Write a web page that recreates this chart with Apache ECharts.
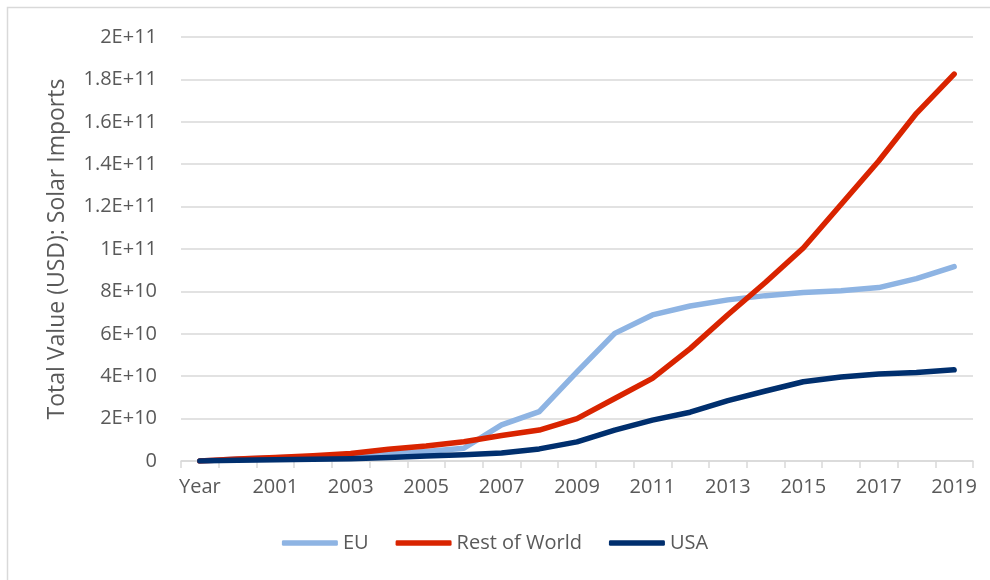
<!DOCTYPE html>
<html>
<head>
<meta charset="utf-8">
<script src="https://cdn.jsdelivr.net/npm/echarts@6/dist/echarts.min.js"></script>
<style>
  html, body { margin: 0; padding: 0; background: #fff; }
  #main { width: 990px; height: 580px; }
</style>
</head>
<body>
<div id="main"></div>
<script>
var chart = echarts.init(document.getElementById('main'));

// categories (first one is the header row "Year")
var years = ['Year', '2000', '2001', '2002', '2003', '2004', '2005', '2006', '2007', '2008', '2009',
  '2010', '2011', '2012', '2013', '2014', '2015', '2016', '2017', '2018', '2019'];

// values in units of 1E10 USD
var euVals = [0, 0.1, 0.15, 0.2, 0.27, 0.35, 0.45, 0.6, 1.7, 2.33, 4.2,
  6.02, 6.89, 7.31, 7.6, 7.8, 7.95, 8.03, 8.18, 8.6, 9.17];
var rowVals = [0, 0.1, 0.17, 0.25, 0.35, 0.55, 0.71, 0.91, 1.2, 1.46, 2.0,
  2.95, 3.9, 5.3, 6.9, 8.43, 10.05, 12.1, 14.15, 16.4, 18.25];
var usaVals = [0, 0.04, 0.06, 0.08, 0.11, 0.17, 0.24, 0.3, 0.38, 0.57, 0.9,
  1.46, 1.93, 2.3, 2.85, 3.3, 3.74, 3.96, 4.1, 4.17, 4.3];

var seriesNames = ['EU', 'Rest of World', 'USA'];
var colors = ['#8EB4E3', '#D92400', '#002F6E'];
var textColor = '#595959';
var gridColor = '#D9D9D9';
var font = 'Open Sans';

function scale(arr) {
  return arr.map(function (v) { return v * 1e10; });
}

// Excel style tick labels: 2E+11, 1.8E+11, 8E+10 ...
function sci(v) {
  if (v === 0) return '0';
  var e = Math.floor(Math.log10(v) + 1e-9);
  var m = Math.round(v / Math.pow(10, e) * 100) / 100;
  return m + 'E+' + e;
}

function makeLine(name, vals, color) {
  return {
    name: name,
    type: 'line',
    data: scale(vals),
    symbol: 'none',
    showSymbol: false,
    lineStyle: { width: 5.5, color: color, cap: 'round', join: 'round' },
    itemStyle: { color: color }
  };
}

option = {
  backgroundColor: '#FFFFFF',
  color: colors,
  animation: false,
  textStyle: { fontFamily: font },
  graphic: [{
    type: 'rect',
    shape: { x: 7.5, y: 7.5, width: 1000, height: 600 },
    style: { fill: 'none', stroke: gridColor, lineWidth: 1.5 },
    silent: true
  }],
  grid: { left: 181, right: 17, top: 37, bottom: 119 },
  legend: {
    bottom: 22,
    left: 'center',
    icon: 'roundRect',
    itemWidth: 56,
    itemHeight: 5.5,
    itemGap: 27,
    data: seriesNames,
    textStyle: { color: textColor, fontSize: 20, fontFamily: font }
  },
  xAxis: {
    type: 'category',
    data: years,
    boundaryGap: true,
    axisLine: { lineStyle: { color: gridColor, width: 1.5 } },
    axisTick: { show: true, interval: 0, length: 7, lineStyle: { color: gridColor, width: 1.5 } },
    axisLabel: { interval: 1, color: textColor, fontSize: 20, fontFamily: font, margin: 16 },
    splitLine: { show: false }
  },
  yAxis: {
    type: 'value',
    min: 0,
    max: 2e11,
    interval: 2e10,
    name: 'Total Value (USD): Solar Imports',
    nameLocation: 'middle',
    nameGap: 112,
    nameTextStyle: { color: textColor, fontSize: 23, fontFamily: font },
    axisLine: { show: false },
    axisTick: { show: false },
    axisLabel: { color: textColor, fontSize: 20, fontFamily: font, margin: 24, formatter: sci },
    splitLine: { lineStyle: { color: gridColor, width: 1.5 } }
  },
  series: [
    makeLine(seriesNames[0], euVals, colors[0]),
    makeLine(seriesNames[1], rowVals, colors[1]),
    makeLine(seriesNames[2], usaVals, colors[2])
  ]
};

chart.setOption(option);
window.addEventListener('resize', function () { chart.resize(); });
</script>
</body>
</html>
